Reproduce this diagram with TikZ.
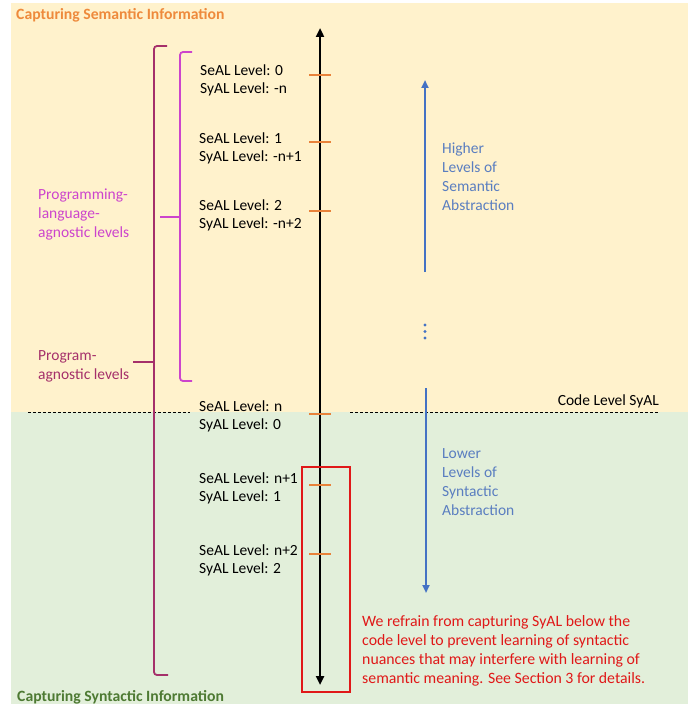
\documentclass[tikz,border=0pt]{standalone}
\usepackage{fontspec}
\setmainfont{Carlito}
\usepackage{xcolor}
\usetikzlibrary{arrows.meta,positioning}
\definecolor{semback}{HTML}{FFF2CC}
\definecolor{synback}{HTML}{E2EFDA}
\definecolor{semtitle}{HTML}{EE8A3C}
\definecolor{syntitle}{HTML}{4E7A33}
\definecolor{tickorange}{HTML}{E8823A}
\definecolor{plagn}{HTML}{CC44CC}
\definecolor{pagn}{HTML}{A5306A}
\definecolor{absblue}{HTML}{4472C4}
\definecolor{abstext}{HTML}{5A7EC0}
\definecolor{notered}{HTML}{E01818}

\begin{document}
\begin{tikzpicture}[
    x=1pt, y=-1pt,
    lvl/.style={anchor=base west, inner sep=0, align=left, font=\fontsize{15.5}{18}\selectfont},
    lbl/.style={anchor=base west, inner sep=0, align=left, font=\fontsize{15.5}{18.7}\selectfont},
    heading/.style={anchor=base west, inner sep=0, font=\bfseries\fontsize{15.7}{17}\selectfont},
    axis/.style={{Triangle[length=9pt,width=8pt]}-{Triangle[length=9pt,width=8pt]}, line width=2.6pt, draw=black},
    absarr/.style={-{Triangle[length=8pt,width=7pt]}, line width=2.4pt, draw=absblue},
    tk/.style={line width=1.8pt, draw=tickorange},
    brk/.style={line width=1.8pt, rounded corners=3pt},
    codeline/.style={dashed, line width=0.8pt, dash pattern=on 3pt off 2pt}
  ]
  \useasboundingbox (0,0) rectangle (691,706);

  % Background bands
  \fill[semback] (11,3) rectangle (688,412);
  \fill[synback] (11,412) rectangle (688,704);
  \node[heading, text=semtitle] (semhead) at (16,20) {Capturing Semantic Information};
  \node[heading, text=syntitle] (synhead) at (17,701) {Capturing Syntactic Information};

  % Code level
  \coordinate (cl1) at (28,412);  \coordinate (cl2) at (190,412);
  \coordinate (cl3) at (350,412); \coordinate (cl4) at (658,412);
  \draw[codeline] (cl1) -- (cl2);
  \draw[codeline] (cl3) -- (cl4);
  \node[lvl, anchor=base east] (codelvl) at (659,405) {Code Level SyAL};

  % Main axis and ticks
  \coordinate (axtop) at (320,28);
  \coordinate (axbot) at (320,685);
  \draw[axis] (axbot) -- (axtop);
  \coordinate (t0) at (320,75);
  \coordinate (t1) at (320,142);
  \coordinate (t2) at (320,211);
  \coordinate (tn) at (320,414);
  \coordinate (tn1) at (320,485);
  \coordinate (tn2) at (320,554);
  \foreach \t in {t0,t1,t2,tn,tn1,tn2}
    \draw[tk] (\t) ++(-11,0) -- ++(22,0);

  % (node base = baseline of the last line)
  \node[lvl] (lev0) at (200,94) {SeAL Level: 0\\SyAL Level: -n};
  \node[lvl] (lev1) at (199,161) {SeAL Level: 1\\SyAL Level: -n+1};
  \node[lvl] (lev2) at (199,228) {SeAL Level: 2\\SyAL Level: -n+2};
  \node[lvl] (levn) at (199,429) {SeAL Level: n\\SyAL Level: 0};
  \node[lvl] (levn1) at (199,501) {SeAL Level: n+1\\SyAL Level: 1};
  \node[lvl] (levn2) at (199,573) {SeAL Level: n+2\\SyAL Level: 2};

  % Brackets
  \draw[brk, draw=pagn] (167,46) -- (154,46) -- (154,675) -- (168,675);
  \draw[brk, draw=pagn] (133,362) -- (154,362);
  \draw[brk, draw=plagn] (192,52) -- (180,52) -- (180,381) -- (192,381);
  \draw[brk, draw=plagn] (160,217) -- (180,217);
  \node[lbl, text=plagn] (plagnlbl) at (38,237) {Programming-\\language-\\agnostic levels};
  \node[lbl, text=pagn] (pagnlbl) at (38,379) {Program-\\agnostic levels};

  % Abstraction arrows
  \coordinate (hibot) at (425,272); \coordinate (hitop) at (425,80);
  \coordinate (lotop) at (426,388); \coordinate (lobot) at (426,593);
  \draw[absarr] (hibot) -- (hitop);
  \draw[absarr] (lotop) -- (lobot);
  \fill[absblue] (425,325) circle (1.7) (425,331.5) circle (1.7) (425,338) circle (1.7);
  \node[lvl, text=abstext, font=\fontsize{15.5}{19}\selectfont] (higher) at (442,210) {Higher\\Levels of\\Semantic\\Abstraction};
  \node[lvl, text=abstext, font=\fontsize{15.5}{19}\selectfont] (lower) at (442,515) {Lower\\Levels of\\Syntactic\\Abstraction};

  % Note
  \draw[line width=2.2pt, draw=notered] (302,467) rectangle (350,692);
  \node[lbl, text=notered, font=\fontsize{15.8}{18.7}\selectfont] (note) at (362,683) {We refrain from capturing SyAL below the\\code level to prevent learning of syntactic\\nuances that may interfere with learning of\\semantic meaning. See Section 3 for details.};
\end{tikzpicture}
\end{document}
